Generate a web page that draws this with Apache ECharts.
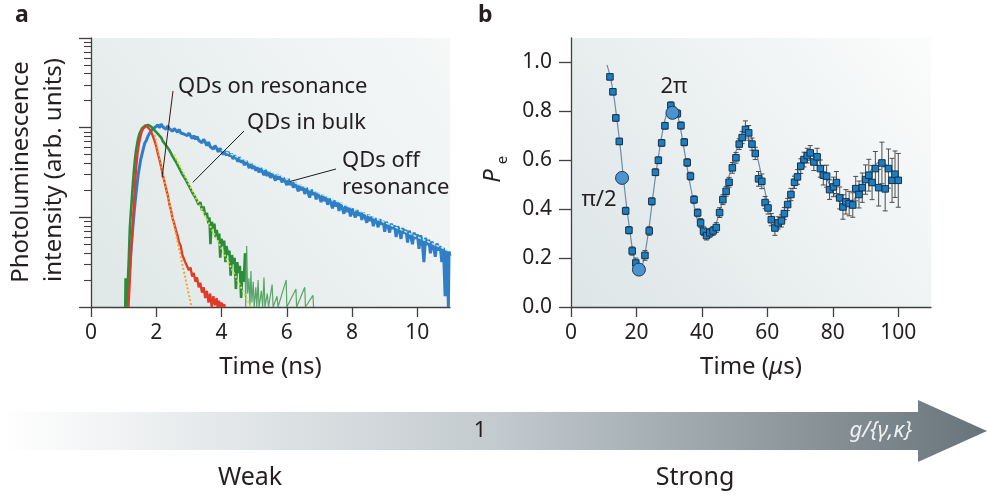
<!DOCTYPE html>
<html>
<head>
<meta charset="utf-8">
<script src="https://cdn.jsdelivr.net/npm/echarts@6/dist/echarts.min.js"></script>
<style>
html, body { margin: 0; padding: 0; background: #fff; }
#chart { width: 987px; height: 498px; }
</style>
</head>
<body>
<div id="chart"></div>
<script>
const FONT = '"Noto Sans", "Open Sans", sans-serif'
const INK = '#231f20'
const AXIS = '#404040'

// ---- panel a : photoluminescence decay, y = log10(intensity) ----
const timeTicksA = [0, 2, 4, 6, 8, 10]
const decades = [0, 1, 2, 3]

const blueTrace = [
  [1.10,0.00],[1.13,0.12],[1.16,0.31],[1.20,0.50],[1.24,0.70],[1.28,0.88],[1.32,1.05],[1.36,1.20],[1.40,1.33],[1.44,1.46],
  [1.48,1.55],[1.52,1.64],[1.56,1.70],[1.60,1.76],[1.65,1.83],[1.70,1.86],[1.75,1.91],[1.80,1.92],[1.85,1.97],[1.90,1.95],
  [1.95,2.00],[2.00,1.98],[2.05,2.03],[2.10,2.00],[2.15,2.04],[2.20,2.01],[2.25,2.02],[2.30,1.98],[2.35,2.02],[2.40,1.99],
  [2.45,2.01],[2.50,1.96],[2.55,1.99],[2.60,1.98],[2.65,1.95],[2.70,1.98],[2.75,1.94],[2.80,1.96],[2.85,1.93],[2.90,1.95],
  [2.95,1.91],[3.00,1.94],[3.05,1.92],[3.10,1.88],[3.15,1.91],[3.20,1.87],[3.25,1.90],[3.30,1.86],[3.35,1.88],[3.40,1.83],
  [3.45,1.87],[3.50,1.84],[3.55,1.80],[3.60,1.84],[3.65,1.79],[3.70,1.81],[3.75,1.76],[3.80,1.80],[3.85,1.77],[3.90,1.73],
  [3.95,1.77],[4.00,1.74],[4.05,1.70],[4.10,1.74],[4.15,1.69],[4.20,1.73],[4.25,1.68],[4.30,1.71],[4.35,1.65],[4.40,1.69],
  [4.45,1.66],[4.50,1.62],[4.55,1.67],[4.60,1.61],[4.65,1.64],[4.70,1.58],[4.75,1.63],[4.80,1.59],[4.85,1.55],[4.90,1.60],
  [4.95,1.54],[5.00,1.58],[5.05,1.52],[5.10,1.56],[5.15,1.50],[5.20,1.55],[5.25,1.51],[5.30,1.47],[5.35,1.53],[5.40,1.46],
  [5.45,1.51],[5.50,1.44],[5.55,1.49],[5.60,1.45],[5.65,1.41],[5.70,1.48],[5.75,1.42],[5.80,1.46],[5.85,1.39],[5.90,1.44],
  [5.95,1.40],[6.00,1.36],[6.05,1.43],[6.10,1.36],[6.15,1.40],[6.20,1.33],[6.25,1.39],[6.30,1.34],[6.35,1.29],[6.40,1.36],
  [6.45,1.30],[6.50,1.34],[6.55,1.26],[6.60,1.33],[6.65,1.28],[6.70,1.22],[6.75,1.31],[6.80,1.25],[6.85,1.29],[6.90,1.20],
  [6.95,1.27],[7.00,1.23],[7.05,1.17],[7.10,1.25],[7.15,1.18],[7.20,1.23],[7.25,1.14],[7.30,1.21],[7.35,1.16],[7.40,1.10],
  [7.45,1.19],[7.50,1.12],[7.55,1.17],[7.60,1.07],[7.65,1.16],[7.70,1.10],[7.75,1.04],[7.80,1.13],[7.85,1.06],[7.90,1.11],
  [7.95,1.01],[8.00,1.10],[8.05,1.04],[8.10,1.00],[8.15,1.08],[8.20,1.02],[8.25,1.06],[8.30,0.97],[8.35,1.05],[8.40,1.00],
  [8.45,0.94],[8.50,1.03],[8.55,0.96],[8.60,1.01],[8.65,0.90],[8.70,0.99],[8.75,0.95],[8.80,0.89],[8.85,0.98],[8.90,0.92],
  [8.95,0.96],[9.00,0.84],[9.05,0.95],[9.10,0.90],[9.15,0.83],[9.20,0.93],[9.25,0.87],[9.30,0.91],[9.35,0.78],[9.40,0.90],
  [9.45,0.85],[9.50,0.76],[9.55,0.88],[9.60,0.82],[9.65,0.86],[9.70,0.72],[9.75,0.85],[9.80,0.79],[9.85,0.70],[9.90,0.83],
  [9.95,0.76],[10.00,0.81],[10.05,0.65],[10.10,0.80],[10.15,0.73],[10.20,0.50],[10.25,0.77],[10.30,0.69],[10.35,0.75],[10.40,0.60],
  [10.45,0.73],[10.50,0.66],[10.55,0.56],[10.60,0.71],[10.65,0.63],[10.70,0.68],[10.75,0.50],[10.80,0.66],[10.85,0.12],[10.88,0.63],
  [10.92,0.52],[10.95,0.00],[10.97,0.62],[11.00,0.57]
]

const greenTrace = [
  [1.05,0.00],[1.06,0.32],[1.07,0.00],[1.12,0.20],[1.16,0.55],[1.19,0.88],[1.22,1.05],[1.25,1.20],[1.28,1.36],[1.31,1.50],
  [1.34,1.62],[1.37,1.72],[1.40,1.79],[1.44,1.87],[1.48,1.93],[1.52,1.96],[1.56,1.99],[1.60,2.01],[1.65,2.02],[1.70,2.03],
  [1.75,2.03],[1.80,2.02],[1.85,2.01],[1.90,1.99],[1.95,1.97],[2.00,1.95],[2.05,1.93],[2.10,1.91],[2.15,1.89],[2.20,1.85],
  [2.25,1.83],[2.30,1.80],[2.35,1.78],[2.40,1.75],[2.45,1.73],[2.50,1.68],[2.55,1.66],[2.60,1.62],[2.65,1.60],[2.70,1.55],
  [2.75,1.54],[2.80,1.48],[2.85,1.47],[2.90,1.42],[2.95,1.41],[3.00,1.35],[3.05,1.36],[3.10,1.28],[3.15,1.29],[3.20,1.22],
  [3.25,1.23],[3.30,1.14],[3.35,1.17],[3.40,1.08],[3.45,1.12],[3.50,1.02],[3.55,1.05],[3.60,0.93],[3.63,1.00],[3.66,0.70],
  [3.70,0.95],[3.75,0.88],[3.78,0.93],[3.82,0.78],[3.85,0.86],[3.90,0.75],[3.93,0.82],[3.96,0.55],[4.00,0.76],[4.05,0.68],
  [4.08,0.74],[4.12,0.50],[4.15,0.68],[4.20,0.58],[4.24,0.63],[4.28,0.35],[4.32,0.58],[4.36,0.48],[4.40,0.55],[4.44,0.20],
  [4.48,0.50],[4.52,0.38],[4.56,0.46],[4.60,0.10],[4.64,0.40],[4.68,0.28],[4.72,0.60]
]
// sparse photon-count spikes after the green decay
const greenTail = [
  [4.72,0.60],[4.74,0.00],[4.77,0.68],[4.80,0.15],[4.84,0.32],[4.87,0.00],[4.90,0.40],[4.93,0.05],[4.97,0.28],[5.00,0.00],
  [5.05,0.22],[5.08,0.00],[5.12,0.30],[5.15,0.00],[5.22,0.18],[5.26,0.00],[5.30,0.33],[5.33,0.00],[5.40,0.15],[5.44,0.00],
  [5.55,0.25],[5.58,0.00],[5.70,0.12],[5.73,0.00],[5.98,0.30],[6.00,0.00],[6.28,0.20],[6.30,0.00],[6.55,0.22],[6.57,0.00],
  [6.80,0.13],[6.82,0.00]
]

const redTrace = [
  [1.15,0.00],[1.19,0.30],[1.23,0.62],[1.27,0.85],[1.31,1.12],[1.35,1.38],[1.39,1.58],[1.43,1.72],[1.47,1.82],[1.51,1.89],
  [1.55,1.95],[1.60,1.99],[1.65,2.01],[1.70,2.02],[1.75,2.00],[1.80,1.98],[1.85,1.95],[1.90,1.90],[1.95,1.85],[2.00,1.79],
  [2.05,1.71],[2.10,1.64],[2.15,1.56],[2.20,1.47],[2.25,1.40],[2.30,1.32],[2.35,1.25],[2.40,1.15],[2.45,1.08],[2.50,0.99],
  [2.55,0.93],[2.60,0.86],[2.65,0.80],[2.70,0.72],[2.75,0.68],[2.80,0.58],[2.85,0.56],[2.90,0.49],[2.95,0.50],[3.00,0.41],
  [3.05,0.44],[3.10,0.34],[3.15,0.38],[3.20,0.28],[3.25,0.33],[3.30,0.22],[3.35,0.27],[3.40,0.16],[3.45,0.22],[3.50,0.10],
  [3.55,0.18],[3.60,0.05],[3.65,0.15],[3.70,0.00],[3.75,0.12],[3.80,0.02],[3.85,0.10],[3.88,0.00],[3.92,0.07],[3.96,0.00],
  [4.00,0.05],[4.04,0.00],[4.08,0.03],[4.10,0.00]
]

// single-exponential fits (straight on the log axis)
const redFit = [[1.95, 1.92], [3.08, 0.00]]
const greenFit = [[2.55, 1.70], [4.90, 0.00]]
const blueFit = [[4.00, 1.75], [11.00, 0.62]]

// ---- panel b : Rabi oscillation ----
const timeTicksB = [0, 20, 40, 60, 80, 100]
const peTicks = [0, 0.2, 0.4, 0.6, 0.8, 1.0]

const rabiTime = [11.9,12.8,13.7,14.75,16.7,17.7,18.7,19.8,22.6,23.9,24.7,25.8,26.7,27.7,28.7,30.5,32.5,33.6,34.6,35.5,
  36.5,37.6,38.7,39.6,40.5,41.4,42.4,43.4,44.4,45.4,46.4,47.4,48.3,49.3,50.4,51.4,52.3,53.3,54.3,55.3,
  56.3,57.3,58.3,59.3,60.2,61.2,62.3,63.3,64.3,65.2,66.2,67.2,68.3,69.2,70.2,71.2,72.2,73.1,74.2,75.2,
  76.2,77.1,78.1,79.0,80.2,81.1,82.1,83.1,84.0,85.0,86.1,87.0,88.0,89.0,90.0,91.0,92.0,93.0,94.0,95.0,
  96.0,97.0,98.1,99.0,100.0]
const rabiPe = [0.941,0.880,0.773,0.677,0.393,0.314,0.229,0.180,0.211,0.311,0.432,0.551,0.600,0.671,0.741,0.824,0.791,0.742,0.674,0.591,
  0.535,0.439,0.385,0.344,0.310,0.292,0.303,0.311,0.325,0.386,0.439,0.473,0.510,0.569,0.610,0.666,0.693,0.726,0.712,0.666,
  0.628,0.524,0.514,0.427,0.405,0.357,0.323,0.344,0.352,0.382,0.419,0.460,0.510,0.532,0.576,0.603,0.619,0.630,0.593,0.614,
  0.566,0.539,0.535,0.480,0.491,0.509,0.446,0.409,0.430,0.423,0.417,0.484,0.460,0.488,0.521,0.539,0.509,0.566,0.488,0.589,
  0.483,0.566,0.518,0.543,0.518]
const rabiErr = [0.012,0.012,0.013,0.013,0.015,0.015,0.017,0.020,0.020,0.018,0.015,0.014,0.014,0.014,0.014,0.015,0.015,0.015,0.015,0.016,
  0.016,0.016,0.016,0.018,0.018,0.018,0.018,0.018,0.020,0.020,0.020,0.020,0.020,0.022,0.022,0.022,0.025,0.035,0.030,0.025,
  0.025,0.030,0.030,0.025,0.025,0.025,0.030,0.025,0.025,0.025,0.025,0.025,0.025,0.030,0.030,0.030,0.030,0.030,0.035,0.035,
  0.035,0.040,0.045,0.040,0.040,0.045,0.045,0.050,0.050,0.050,0.050,0.050,0.055,0.060,0.060,0.065,0.070,0.070,0.075,0.085,
  0.090,0.080,0.090,0.095,0.110]

// damped-cosine fit
const fitTime = [11,12,13,14,15,16,17,18,19,20,21,22,23,24,25,26,27,28,29,30,31,32,33,34,35,36,37,38,39,40,
  41,42,43,44,45,46,47,48,49,50,51,52,53,54,55,56,57,58,59,60,61,62,63,64,65,66,67,68,69,70,
  71,72,73,74,75,76,77,78,79,80,81,82,83,84,85,86,87,88,89,90,91,92,93,94,95,96,97,98,99,100]
const fitPe = [0.99,0.94,0.87,0.77,0.66,0.53,0.41,0.31,0.22,0.17,0.155,0.18,0.25,0.34,0.45,0.55,0.64,0.72,0.78,0.82,
  0.83,0.81,0.76,0.69,0.61,0.53,0.46,0.39,0.34,0.305,0.29,0.29,0.30,0.33,0.37,0.42,0.47,0.52,0.57,0.62,
  0.66,0.70,0.72,0.72,0.70,0.66,0.61,0.55,0.49,0.43,0.38,0.34,0.32,0.33,0.35,0.39,0.44,0.49,0.53,0.57,
  0.60,0.625,0.635,0.63,0.615,0.59,0.56,0.53,0.50,0.47,0.45,0.43,0.42,0.415,0.42,0.43,0.45,0.47,0.50,0.52,
  0.545,0.565,0.58,0.59,0.59,0.585,0.575,0.56,0.545,0.53]

// pulse areas marked with large circles
const markTime = [15.6, 20.75, 31.0]
const markPe = [0.528, 0.153, 0.794]

// minor log ticks at 2..9 within each decade
const minorTicks = []
decades.slice(0, 3).forEach(d => {
  for (let k = 2; k <= 9; k++) minorTicks.push(d + Math.log10(k))
})

const chart = echarts.init(document.getElementById('chart'))

const bgA = { type: 'linear', x: 0, y: 1, x2: 1, y2: 0, colorStops: [{ offset: 0, color: '#dfe7e7' }, { offset: 1, color: '#f6f8f8' }] }
const bgB = { type: 'linear', x: 0, y: 1, x2: 1, y2: 0, colorStops: [{ offset: 0, color: '#dde5e6' }, { offset: 1, color: '#fbfcfc' }] }
const arrowFill = {
  type: 'linear', x: 0, y: 0, x2: 1, y2: 0,
  colorStops: [
    { offset: 0, color: '#ffffff' },
    { offset: 0.5, color: '#c3cbcf' },
    { offset: 0.9, color: '#7b868c' },
    { offset: 1, color: '#67737a' }
  ]
}

const tickLabel = { color: INK, fontSize: 21, fontFamily: FONT }
const axisLine = { lineStyle: { color: AXIS, width: 1.3 } }

function txt (id, x, y, text, extra) {
  return {
    type: 'text', id: id, x: x, y: y, z: 50,
    style: Object.assign({ text: text, fill: INK, font: '22px ' + FONT, align: 'left', verticalAlign: 'middle' }, extra || {})
  }
}

const option = {
  animation: false,
  grid: [
    { left: 91, top: 38, width: 359, height: 269, show: true, borderWidth: 0, backgroundColor: bgA },
    { left: 571, top: 38, width: 360, height: 269, show: true, borderWidth: 0, backgroundColor: bgB }
  ],
  xAxis: [
    {
      type: 'value', gridIndex: 0, min: 0, max: 11,
      axisLine: axisLine,
      axisTick: { customValues: timeTicksA, length: 10, lineStyle: { color: AXIS, width: 1.3 } },
      axisLabel: Object.assign({ customValues: timeTicksA, margin: 16 }, tickLabel),
      splitLine: { show: false },
      name: 'Time (ns)', nameLocation: 'middle', nameGap: 48,
      nameTextStyle: { color: INK, fontSize: 24, fontFamily: FONT }
    },
    {
      type: 'value', gridIndex: 1, min: 0, max: 110,
      axisLine: axisLine,
      axisTick: { customValues: timeTicksB, length: 10, lineStyle: { color: AXIS, width: 1.3 } },
      axisLabel: Object.assign({ customValues: timeTicksB, margin: 16 }, tickLabel),
      splitLine: { show: false },
      name: 'Time ({mu|μ}s)', nameLocation: 'middle', nameGap: 48,
      nameTextStyle: {
        color: INK, fontSize: 24, fontFamily: FONT,
        rich: { mu: { fontStyle: 'italic', fontSize: 24, fontFamily: FONT, color: INK } }
      }
    }
  ],
  yAxis: [
    {
      type: 'value', gridIndex: 0, min: 0, max: 3, interval: 1, position: 'left',
      axisLine: axisLine,
      axisTick: { length: 12, lineStyle: { color: AXIS, width: 1.3 } },
      axisLabel: { show: false },
      splitLine: { show: false }
    },
    {
      type: 'value', gridIndex: 0, min: 0, max: 3, position: 'left',
      axisLine: { show: false },
      axisTick: { customValues: minorTicks, length: 7, lineStyle: { color: AXIS, width: 1.1 } },
      axisLabel: { show: false },
      splitLine: { show: false }
    },
    {
      type: 'value', gridIndex: 1, min: 0, max: 1.1, position: 'left',
      axisLine: axisLine,
      axisTick: { customValues: peTicks, length: 12, lineStyle: { color: AXIS, width: 1.3 } },
      axisLabel: Object.assign({ customValues: peTicks, margin: 19, formatter: v => v.toFixed(1) }, tickLabel),
      splitLine: { show: false }
    }
  ],
  series: [
    { type: 'line', xAxisIndex: 0, yAxisIndex: 0, data: blueTrace, showSymbol: false, lineStyle: { color: '#2f7ec6', width: 3, join: 'bevel' }, z: 2 },
    { type: 'line', xAxisIndex: 0, yAxisIndex: 0, data: greenTail, showSymbol: false, lineStyle: { color: '#2b8d3b', width: 1.2, opacity: 0.75 }, z: 3 },
    { type: 'line', xAxisIndex: 0, yAxisIndex: 0, data: greenTrace, showSymbol: false, lineStyle: { color: '#2b8d3b', width: 2.6, join: 'bevel' }, z: 3 },
    { type: 'line', xAxisIndex: 0, yAxisIndex: 0, data: redTrace, showSymbol: false, lineStyle: { color: '#e23a28', width: 2.3, join: 'bevel' }, z: 4 },
    { type: 'line', xAxisIndex: 0, yAxisIndex: 0, data: redFit, showSymbol: false, lineStyle: { color: '#f5a52c', width: 2, type: [2, 2] }, z: 5 },
    { type: 'line', xAxisIndex: 0, yAxisIndex: 0, data: greenFit, showSymbol: false, lineStyle: { color: '#c8e04c', width: 2, type: [2, 2] }, z: 5 },
    { type: 'line', xAxisIndex: 0, yAxisIndex: 0, data: blueFit, showSymbol: false, lineStyle: { color: '#b4ecee', width: 1.5, type: [3, 2] }, z: 5 },

    { type: 'line', xAxisIndex: 1, yAxisIndex: 2, data: fitTime.map((t, i) => [t, fitPe[i]]), smooth: true, showSymbol: false, lineStyle: { color: '#6a8cab', width: 1.2 }, z: 2 },
    {
      type: 'custom', xAxisIndex: 1, yAxisIndex: 2, z: 3,
      data: rabiTime.map((t, i) => [t, rabiPe[i], rabiErr[i]]),
      encode: { x: 0, y: 1 },
      renderItem: function (params, api) {
        const x = api.value(0), y = api.value(1), e = api.value(2)
        const hi = api.coord([x, y + e])
        const lo = api.coord([x, y - e])
        const cw = 2.5
        const style = { stroke: '#4d4d4d', lineWidth: 1 }
        return {
          type: 'group',
          children: [
            { type: 'line', shape: { x1: hi[0], y1: hi[1], x2: lo[0], y2: lo[1] }, style: style },
            { type: 'line', shape: { x1: hi[0] - cw, y1: hi[1], x2: hi[0] + cw, y2: hi[1] }, style: style },
            { type: 'line', shape: { x1: lo[0] - cw, y1: lo[1], x2: lo[0] + cw, y2: lo[1] }, style: style }
          ]
        }
      }
    },
    {
      type: 'scatter', xAxisIndex: 1, yAxisIndex: 2, z: 4,
      data: rabiTime.map((t, i) => [t, rabiPe[i]]),
      symbol: 'rect', symbolSize: 6.5,
      itemStyle: { color: '#1b7fc2', borderColor: '#16314c', borderWidth: 1, opacity: 1 }
    },
    {
      type: 'scatter', xAxisIndex: 1, yAxisIndex: 2, z: 5,
      data: markTime.map((t, i) => [t, markPe[i]]),
      symbol: 'circle', symbolSize: 13,
      itemStyle: { color: '#4b94d0', borderColor: '#1f3c58', borderWidth: 1, opacity: 1 }
    }
  ],
  graphic: [
    txt('lblA', 15, 15, 'a', { font: 'bold 23px ' + FONT }),
    txt('lblB', 478, 15, 'b', { font: 'bold 23px ' + FONT }),
    Object.assign(txt('yA1', 21, 172, 'Photoluminescence', { font: '24px ' + FONT, align: 'center' }), { rotation: Math.PI / 2 }),
    Object.assign(txt('yA2', 54, 170, 'intensity (arb. units)', { font: '24px ' + FONT, align: 'center' }), { rotation: Math.PI / 2 }),
    Object.assign(txt('yB1', 493, 176, 'P', { font: 'italic 24px ' + FONT, align: 'center' }), { rotation: Math.PI / 2 }),
    Object.assign(txt('yB2', 503, 160, 'e', { font: '15px ' + FONT, align: 'center' }), { rotation: Math.PI / 2 }),
    txt('qOn', 178, 87, 'QDs on resonance'),
    txt('qBulk', 247, 123, 'QDs in bulk'),
    txt('qOff', 342, 174, 'QDs off\nresonance', { lineHeight: 27 }),
    txt('pi2', 599, 200, 'π/2', { align: 'center' }),
    txt('twoPi', 674, 87, '2π', { align: 'center' }),
    {
      type: 'polygon', id: 'arrow', z: 10,
      shape: { points: [[0, 412], [918, 412], [918, 400], [987, 431], [918, 462], [918, 450], [0, 450]] },
      style: { fill: arrowFill }
    },
    txt('one', 480, 431, '1', { align: 'center' }),
    txt('gk', 912, 431, 'g/{γ,κ}', { align: 'right', fill: '#eef2f3', font: 'italic 22px ' + FONT }),
    txt('weak', 250, 478, 'Weak', { align: 'center', font: '25px ' + FONT }),
    txt('strong', 695, 478, 'Strong', { align: 'center', font: '25px ' + FONT })
  ]
}

chart.setOption(option)

// leader lines from the labels to the curves
const toPx = p => chart.convertToPixel({ xAxisIndex: 0, yAxisIndex: 0 }, p)
const leaders = [
  { id: 'ldOn', from: [173, 91], to: toPx([2.18, 1.45]), color: '#3a1812' },
  { id: 'ldBulk', from: [244, 131], to: toPx([3.12, 1.39]), color: '#1c1c1c' },
  { id: 'ldOff', from: [336, 169], to: toPx([6.10, 1.40]), color: '#1c1c1c' }
]
chart.setOption({
  graphic: leaders.map(l => ({
    type: 'line', id: l.id, z: 40,
    shape: { x1: l.from[0], y1: l.from[1], x2: l.to[0], y2: l.to[1] },
    style: { stroke: l.color, lineWidth: 1 }
  }))
})
</script>
</body>
</html>
